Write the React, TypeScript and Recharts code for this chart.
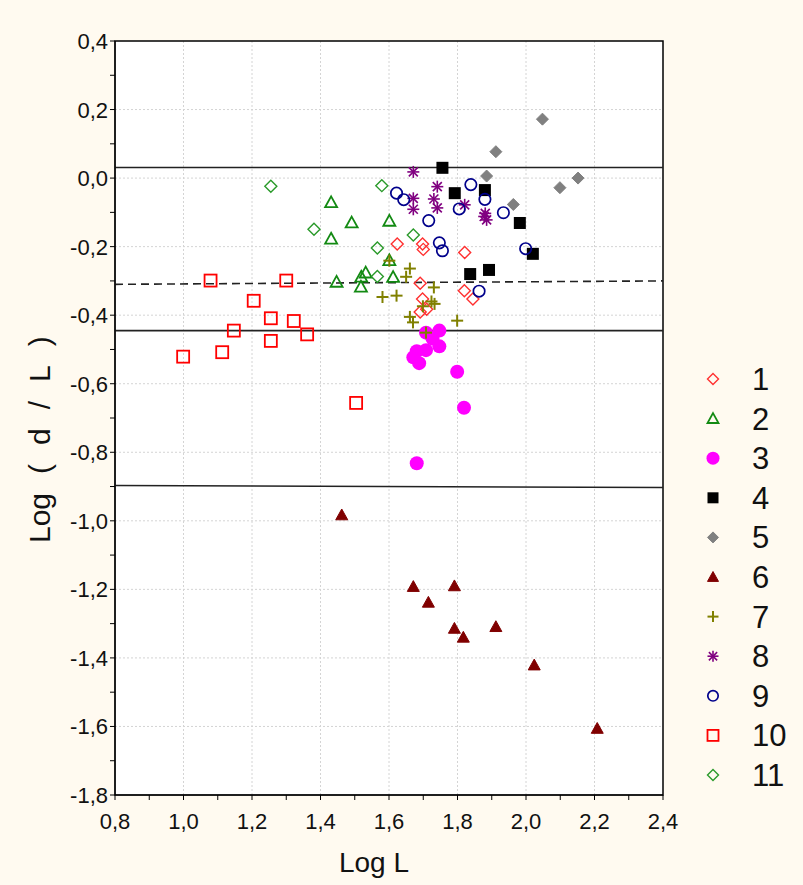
import React from 'react';
import {
  ScatterChart, Scatter, XAxis, YAxis, CartesianGrid, ReferenceLine, ReferenceArea, Legend,
} from 'recharts';

// ---------- data ----------
const xTicks = [0.8, 0.9, 1.0, 1.1, 1.2, 1.3, 1.4, 1.5, 1.6, 1.7, 1.8, 1.9, 2.0, 2.1, 2.2, 2.3, 2.4];
const yTicks = [-1.8, -1.7, -1.6, -1.5, -1.4, -1.3, -1.2, -1.1, -1.0, -0.9, -0.8, -0.7, -0.6, -0.5, -0.4, -0.3, -0.2, -0.1, 0.0, 0.1, 0.2, 0.3, 0.4];
const xGrid = [1.0, 1.2, 1.4, 1.6, 1.8, 2.0, 2.2];
const yGrid = [-1.6, -1.4, -1.2, -1.0, -0.8, -0.6, -0.4, -0.2, 0.0, 0.2];
const yTitleParts = ['Log', '(', 'd', '/', 'L', ')'];
const xTitle = 'Log L';

const series1 = [
  { x: 1.624, y: -0.192 }, { x: 1.698, y: -0.192 }, { x: 1.700, y: -0.208 }, { x: 1.821, y: -0.217 },
  { x: 1.691, y: -0.307 }, { x: 1.820, y: -0.329 }, { x: 1.845, y: -0.353 }, { x: 1.698, y: -0.353 },
  { x: 1.710, y: -0.383 }, { x: 1.691, y: -0.391 },
];
const series2 = [
  { x: 1.431, y: -0.071 }, { x: 1.491, y: -0.130 }, { x: 1.431, y: -0.177 }, { x: 1.601, y: -0.125 },
  { x: 1.601, y: -0.240 }, { x: 1.447, y: -0.303 }, { x: 1.532, y: -0.276 }, { x: 1.519, y: -0.288 },
  { x: 1.518, y: -0.317 }, { x: 1.612, y: -0.289 },
];
const series3 = [
  { x: 1.708, y: -0.451 }, { x: 1.747, y: -0.445 }, { x: 1.727, y: -0.468 }, { x: 1.747, y: -0.491 },
  { x: 1.708, y: -0.502 }, { x: 1.681, y: -0.505 }, { x: 1.671, y: -0.523 }, { x: 1.688, y: -0.540 },
  { x: 1.799, y: -0.565 }, { x: 1.819, y: -0.670 }, { x: 1.681, y: -0.832 },
];
const series4 = [
  { x: 1.756, y: 0.030 }, { x: 1.792, y: -0.044 }, { x: 1.880, y: -0.035 }, { x: 1.982, y: -0.131 },
  { x: 2.020, y: -0.221 }, { x: 1.837, y: -0.280 }, { x: 1.892, y: -0.268 },
];
const series5 = [
  { x: 2.048, y: 0.172 }, { x: 1.912, y: 0.077 }, { x: 1.885, y: 0.006 }, { x: 1.963, y: -0.077 },
  { x: 2.099, y: -0.028 }, { x: 2.152, y: 0.000 },
];
const series6 = [
  { x: 1.462, y: -0.983 }, { x: 1.671, y: -1.192 }, { x: 1.715, y: -1.238 }, { x: 1.791, y: -1.190 },
  { x: 1.791, y: -1.314 }, { x: 1.817, y: -1.340 }, { x: 1.912, y: -1.309 }, { x: 2.024, y: -1.421 },
  { x: 2.208, y: -1.606 },
];
const series7 = [
  { x: 1.601, y: -0.241 }, { x: 1.661, y: -0.264 }, { x: 1.650, y: -0.288 }, { x: 1.731, y: -0.319 },
  { x: 1.581, y: -0.347 }, { x: 1.622, y: -0.343 }, { x: 1.724, y: -0.360 }, { x: 1.733, y: -0.367 },
  { x: 1.699, y: -0.374 }, { x: 1.661, y: -0.405 }, { x: 1.670, y: -0.421 }, { x: 1.799, y: -0.416 },
  { x: 1.708, y: -0.451 },
];
const series8 = [
  { x: 1.671, y: 0.018 }, { x: 1.741, y: -0.025 }, { x: 1.671, y: -0.059 }, { x: 1.731, y: -0.061 },
  { x: 1.671, y: -0.091 }, { x: 1.741, y: -0.087 }, { x: 1.821, y: -0.078 }, { x: 1.881, y: -0.103 },
  { x: 1.885, y: -0.122 }, { x: 1.878, y: -0.112 },
];
const series9 = [
  { x: 1.622, y: -0.044 }, { x: 1.643, y: -0.063 }, { x: 1.716, y: -0.124 }, { x: 1.839, y: -0.019 },
  { x: 1.805, y: -0.090 }, { x: 1.880, y: -0.062 }, { x: 1.934, y: -0.101 }, { x: 1.747, y: -0.189 },
  { x: 1.756, y: -0.212 }, { x: 1.999, y: -0.206 }, { x: 1.863, y: -0.330 },
];
const series10 = [
  { x: 0.999, y: -0.521 }, { x: 1.079, y: -0.299 }, { x: 1.113, y: -0.508 }, { x: 1.147, y: -0.445 },
  { x: 1.205, y: -0.358 }, { x: 1.255, y: -0.409 }, { x: 1.255, y: -0.475 }, { x: 1.300, y: -0.299 },
  { x: 1.322, y: -0.417 }, { x: 1.361, y: -0.456 }, { x: 1.504, y: -0.656 },
];
const series11 = [
  { x: 1.255, y: -0.024 }, { x: 1.579, y: -0.022 }, { x: 1.381, y: -0.149 }, { x: 1.671, y: -0.166 },
  { x: 1.566, y: -0.204 }, { x: 1.566, y: -0.287 },
];

const seriesNames = ['1', '2', '3', '4', '5', '6', '7', '8', '9', '10', '11'];
const seriesData = [series1, series2, series3, series4, series5, series6, series7, series8, series9, series10, series11];
const seriesKinds = ['openDiamond', 'openTriangle', 'filledCircle', 'filledSquare', 'filledDiamond', 'filledTriangle', 'plus', 'asterisk', 'openCircle', 'openSquare', 'openDiamond'];
const seriesColors = ['#ff3030', '#138a13', '#ff00ff', '#000000', '#808080', '#800000', '#808000', '#800080', '#00008b', '#ff0000', '#2a9a2a'];

const refSolid = [0.031, -0.445];
const refDashed = [{ x: 0.8, y: -0.31 }, { x: 2.4, y: -0.30 }];
const refBottom = [{ x: 0.8, y: -0.897 }, { x: 2.4, y: -0.903 }];

// ---------- rendering ----------
const FONT = '"Liberation Sans", Arial, sans-serif';

function Marker({ kind, color, cx, cy, s = 6 }: any) {
  if (cx == null || cy == null) return null;
  switch (kind) {
    case 'openDiamond':
      return <polygon points={`${cx},${cy - s} ${cx + s},${cy} ${cx},${cy + s} ${cx - s},${cy}`} fill="none" stroke={color} strokeWidth={1.4} />;
    case 'filledDiamond':
      return <polygon points={`${cx},${cy - s} ${cx + s},${cy} ${cx},${cy + s} ${cx - s},${cy}`} fill={color} stroke={color} strokeWidth={1} />;
    case 'openTriangle':
      return <polygon points={`${cx},${cy - s} ${cx + s},${cy + s * 0.8} ${cx - s},${cy + s * 0.8}`} fill="none" stroke={color} strokeWidth={1.8} />;
    case 'filledTriangle':
      return <polygon points={`${cx},${cy - s} ${cx + s},${cy + s * 0.8} ${cx - s},${cy + s * 0.8}`} fill={color} stroke={color} strokeWidth={1} />;
    case 'filledCircle':
      return <circle cx={cx} cy={cy} r={s + 1} fill={color} />;
    case 'openCircle':
      return <circle cx={cx} cy={cy} r={s - 0.3} fill="none" stroke={color} strokeWidth={1.7} />;
    case 'filledSquare':
      return <rect x={cx - s} y={cy - s} width={2 * s} height={2 * s} fill={color} />;
    case 'openSquare':
      return <rect x={cx - s} y={cy - s} width={2 * s} height={2 * s} fill="none" stroke={color} strokeWidth={1.8} />;
    case 'plus':
      return (
        <g stroke={color} strokeWidth={2}>
          <line x1={cx - s} y1={cy} x2={cx + s} y2={cy} />
          <line x1={cx} y1={cy - s} x2={cx} y2={cy + s} />
        </g>
      );
    case 'asterisk': {
      const d = s * 0.75;
      return (
        <g stroke={color} strokeWidth={1.6}>
          <line x1={cx - s} y1={cy} x2={cx + s} y2={cy} />
          <line x1={cx} y1={cy - s} x2={cx} y2={cy + s} />
          <line x1={cx - d} y1={cy - d} x2={cx + d} y2={cy + d} />
          <line x1={cx - d} y1={cy + d} x2={cx + d} y2={cy - d} />
        </g>
      );
    }
    default:
      return null;
  }
}

const fmt = (v: number) => v.toFixed(1).replace('.', ',');
const isMajor = (v: number) => Math.abs(Math.round(v * 10)) % 2 === 0;

function XTick({ x, y, payload }: any) {
  if (!isMajor(payload.value)) return null;
  return (
    <text x={x} y={y + 27} textAnchor="middle" fontSize={22} fontFamily={FONT} fill="#111">{fmt(payload.value)}</text>
  );
}
function YTick({ x, y, payload }: any) {
  if (!isMajor(payload.value)) return null;
  return (
    <text x={x} y={y + 8} textAnchor="end" fontSize={22} fontFamily={FONT} fill="#111">{fmt(payload.value)}</text>
  );
}

function LegendContent() {
  return (
    <svg width={110} height={440}>
      {seriesNames.map((n, i) => {
        const cy = 19 + i * 39.6;
        return (
          <g key={n}>
            <Marker kind={seriesKinds[i]} color={seriesColors[i]} cx={23} cy={cy} s={5.5} />
            <text x={62} y={cy + 11} fontSize={31} fontFamily={FONT} fill="#111">{n}</text>
          </g>
        );
      })}
    </svg>
  );
}

function YTitle() {
  return (
    <text transform="translate(50,435) rotate(-90)" x={-108} y={0} fontSize={30} fontFamily={FONT} fill="#111">
      {yTitleParts.map((t, i) => (
        <tspan key={i} dx={i === 0 ? 0 : 19}>{t}</tspan>
      ))}
    </text>
  );
}

export default function App() {
  return (
    <div style={{ position: 'absolute', left: 0, top: 0, width: 803, height: 885, background: '#fffaf0' }}>
      <ScatterChart width={803} height={885} margin={{ top: 41, right: 140, bottom: 30, left: 35 }}>
        <CartesianGrid
          horizontalValues={yGrid}
          verticalValues={xGrid}
          strokeDasharray="2 2"
          stroke="#d4d4d4"
          fill="#ffffff"
        />
        <XAxis
          type="number"
          dataKey="x"
          domain={[0.8, 2.4]}
          ticks={xTicks}
          interval={0}
          allowDataOverflow
          height={60}
          tickSize={5}
          tickMargin={2}
          stroke="#000"
          tick={<XTick />}
          label={{ value: xTitle, position: 'insideBottom', content: () => (
            <text x={374} y={872} textAnchor="middle" fontSize={28} fontFamily={FONT} fill="#111">{xTitle}</text>
          ) }}
        />
        <YAxis
          type="number"
          dataKey="y"
          domain={[-1.8, 0.4]}
          ticks={yTicks}
          interval={0}
          allowDataOverflow
          width={80}
          tickSize={5}
          tickMargin={2}
          stroke="#000"
          tick={<YTick />}
          label={{ value: 'Log ( d / L )', position: 'insideLeft', content: () => <YTitle /> }}
        />
        <XAxis xAxisId="top" orientation="top" mirror type="number" domain={[0.8, 2.4]} ticks={xTicks} interval={0} tick={false} tickSize={4} axisLine={false} stroke="#000" height={0} />
        <YAxis yAxisId="right" orientation="right" mirror type="number" domain={[-1.8, 0.4]} ticks={yTicks} interval={0} tick={false} tickSize={4} axisLine={false} stroke="#000" width={0} />
        <ReferenceArea x1={0.8} x2={2.4} y1={-1.8} y2={0.4} fill="none" stroke="#000" strokeWidth={1.5} />
        <ReferenceLine y={refSolid[0]} stroke="#222" strokeWidth={1.6} />
        <ReferenceLine segment={refDashed} stroke="#222" strokeWidth={1.6} strokeDasharray="8 5" />
        <ReferenceLine y={refSolid[1]} stroke="#222" strokeWidth={1.6} />
        <ReferenceLine segment={refBottom} stroke="#222" strokeWidth={1.6} />
        {seriesData.map((d, i) => (
          <Scatter
            key={seriesNames[i]}
            name={seriesNames[i]}
            data={d}
            isAnimationActive={false}
            fill={seriesColors[i]}
            shape={(p: any) => <Marker kind={seriesKinds[i]} color={seriesColors[i]} cx={p.cx} cy={p.cy} s={6} />}
          />
        ))}
        <Legend
          layout="vertical"
          align="center"
          verticalAlign="middle"
          wrapperStyle={{ left: 690, top: 360, width: 110 }}
          content={() => <LegendContent />}
        />
      </ScatterChart>
    </div>
  );
}
